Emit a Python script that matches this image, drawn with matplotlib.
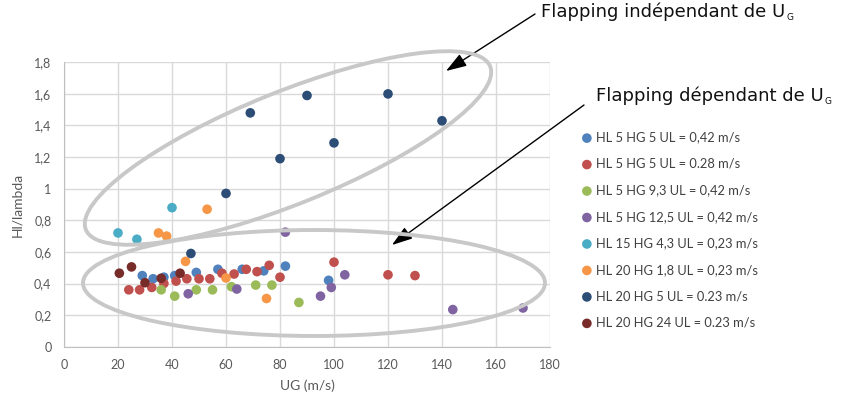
import matplotlib
matplotlib.use("Agg")
import matplotlib.pyplot as plt
from matplotlib.patches import Ellipse
from matplotlib.transforms import Affine2D
from matplotlib.ticker import FuncFormatter

# data
labels = [
    "HL 5 HG 5 UL = 0,42 m/s",
    "HL 5 HG 5 UL = 0.28 m/s",
    "HL 5 HG 9,3 UL = 0,42 m/s",
    "HL 5 HG 12,5 UL = 0,42 m/s",
    "HL 15 HG 4,3 UL = 0,23 m/s",
    "HL 20 HG 1,8 UL = 0,23 m/s",
    "HL 20 HG 5 UL = 0.23 m/s",
    "HL 20 HG 24 UL = 0.23 m/s",
]
colors = ["#4F81BD", "#C0504D", "#9BBB59", "#8064A2",
          "#4BACC6", "#F79646", "#2C4D75", "#772C2A"]

ug_blue = [29, 33, 37, 41, 49, 57, 66, 74, 82, 98]
hl_blue = [0.45, 0.43, 0.44, 0.45, 0.47, 0.49, 0.49, 0.48, 0.51, 0.42]

ug_red = [24, 28, 32.5, 37, 41.5, 45.5, 50, 54, 58.5, 63, 67.5, 71.5, 76, 80, 100, 120, 130]
hl_red = [0.36, 0.36, 0.375, 0.40, 0.415, 0.43, 0.43, 0.43, 0.465, 0.46, 0.49, 0.475,
          0.515, 0.44, 0.535, 0.455, 0.45]

ug_green = [36, 41, 49, 55, 62, 71, 77, 87]
hl_green = [0.36, 0.32, 0.36, 0.36, 0.38, 0.39, 0.39, 0.28]

ug_purple = [46, 64, 82, 95, 99, 104, 144, 170]
hl_purple = [0.335, 0.365, 0.725, 0.32, 0.375, 0.455, 0.235, 0.245]

ug_aqua = [20, 27, 40]
hl_aqua = [0.72, 0.68, 0.88]

ug_orange = [35, 38, 45, 53, 60, 75]
hl_orange = [0.72, 0.70, 0.54, 0.87, 0.435, 0.305]

ug_navy = [47, 60, 69, 80, 90, 100, 120, 140]
hl_navy = [0.59, 0.97, 1.48, 1.19, 1.59, 1.29, 1.60, 1.43]

ug_darkred = [20.5, 25, 30, 36, 43]
hl_darkred = [0.465, 0.505, 0.405, 0.433, 0.465]

series_x = [ug_blue, ug_red, ug_green, ug_purple, ug_aqua, ug_orange, ug_navy, ug_darkred]
series_y = [hl_blue, hl_red, hl_green, hl_purple, hl_aqua, hl_orange, hl_navy, hl_darkred]

W, H = 847, 407
plt.rcParams['font.family'] = ['Lato', 'DejaVu Sans']

fig = plt.figure(figsize=(W / 100, H / 100), dpi=100)
ax = fig.add_axes([64 / W, (H - 346.7) / H, (550 - 64) / W, (346.7 - 62.3) / H])

# image pixel coords (y down) -> display
px = Affine2D().scale(1, -1).translate(0, H)

handles = []
for xs, ys, c, lab in zip(series_x, series_y, colors, labels):
    h = ax.scatter(xs, ys, s=48, color=c, edgecolors='none', label=lab, zorder=3)
    handles.append(h)

ax.set_xlim(0, 180)
ax.set_ylim(0, 1.8)
ax.set_xticks(range(0, 181, 20))
ax.set_yticks([i * 0.2 for i in range(10)])
ax.yaxis.set_major_formatter(FuncFormatter(lambda v, p: f"{v:.1f}".rstrip('0').rstrip('.').replace('.', ',')))
ax.grid(True, color='#d9d9d9', lw=1)
ax.set_axisbelow(True)
for s in ['top', 'right']:
    ax.spines[s].set_visible(False)
for s in ['left', 'bottom']:
    ax.spines[s].set_color('#bfbfbf')
ax.tick_params(length=0, labelsize=9, colors='#595959', pad=9)
ax.set_xlabel('UG (m/s)', fontsize=10, color='#595959', labelpad=6)
ax.set_ylabel('Hl/lambda', fontsize=10, color='#595959', labelpad=8)

# grouping ellipses
ell_up = Ellipse((288, 148), 436, 112, angle=-22, transform=px, fill=False,
                 edgecolor='#c8c8c8', lw=2.8, zorder=4)
ell_low = Ellipse((314, 283), 462, 106, angle=0, transform=px, fill=False,
                  edgecolor='#c8c8c8', lw=2.8, zorder=4)
fig.add_artist(ell_up)
fig.add_artist(ell_low)

# annotations, with a small subscript G placed after the main text
renderer = fig.canvas.get_renderer()
for x0, y0, txt in [(541, 17, "Flapping indépendant de U"),
                    (596, 101, "Flapping dépendant de U")]:
    t = fig.text(x0, y0, txt, transform=px, fontsize=13, family='DejaVu Sans',
                 va='baseline', ha='left', color='#111111')
    bb = t.get_window_extent(renderer)
    fig.text(bb.x1 + 1, H - y0 - 3, "G", transform=None, fontsize=6.5,
             family='DejaVu Sans', va='baseline', ha='left', color='#111111')

arrow = dict(arrowstyle='-|>,head_length=0.9,head_width=0.3', color='black', lw=1,
             shrinkA=0, shrinkB=0, mutation_scale=14)
ax.annotate('', xy=(446, 71), xytext=(535, 14), xycoords=px, textcoords=px,
            arrowprops=arrow, annotation_clip=False)
ax.annotate('', xy=(392, 245), xytext=(584, 105), xycoords=px, textcoords=px,
            arrowprops=arrow, annotation_clip=False)

fig.legend(handles=handles, loc='upper left', bbox_to_anchor=(583, 131.5),
           bbox_transform=px, frameon=False, fontsize=9.3, labelcolor='#404040',
           handlelength=0.6, handletextpad=0.4, labelspacing=1.12, borderpad=0,
           borderaxespad=0, scatterpoints=1)

fig.savefig('out.png', dpi=100)
plt.close(fig)
